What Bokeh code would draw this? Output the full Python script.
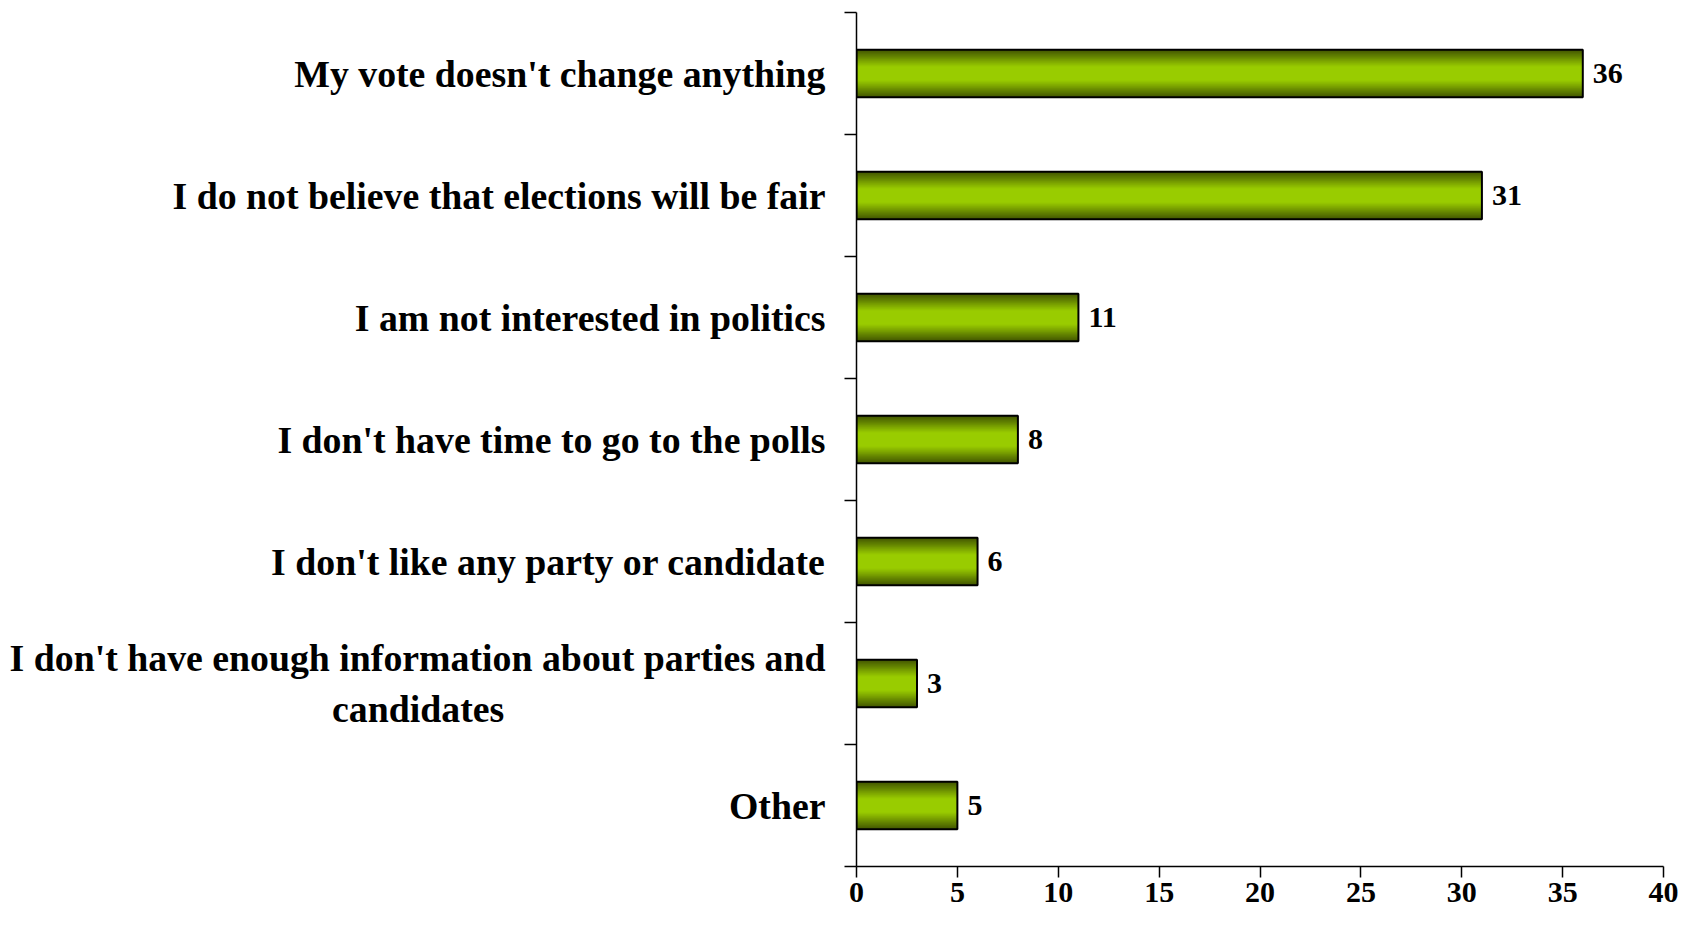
from bokeh.plotting import figure
from bokeh.models import ColumnDataSource, Range1d, FixedTicker
from bokeh.core.properties import value
from bokeh.embed import file_html
from bokeh.resources import INLINE

# ---- data ----
NBSP = "\u00a0"
categories = [
    "My vote doesn't change anything",
    "I do not believe that elections will be fair",
    "I am not interested in politics",
    "I don't have time to go to the polls",
    "I don't like any party or candidate",
    "I don't have enough information about parties and\ncandidates" + NBSP * 34,
    "Other",
]
values = [36, 31, 11, 8, 6, 3, 5]
x_ticks = [0, 5, 10, 15, 20, 25, 30, 35, 40]
value_labels = [str(v) for v in values]

FONT = "Liberation Serif"
n = len(categories)
centers = [i + 0.5 for i in range(n)]
BAR_H = 0.39

# ---- concentric layers to imitate the vertical gradient (style only) ----
EDGE = (68, 88, 0)
MID = (153, 204, 0)
K = 24


def mix(d):
    f = max(0.0, (d - 0.3) / 0.7)
    r = int(round(MID[0] + (EDGE[0] - MID[0]) * f))
    g = int(round(MID[1] + (EDGE[1] - MID[1]) * f))
    b = int(round(MID[2] + (EDGE[2] - MID[2]) * f))
    return "#%02x%02x%02x" % (r, g, b)


p = figure(
    width=1678,
    height=915,
    x_range=Range1d(0, 40),
    y_range=Range1d(n, 0),
    output_backend="svg",
    toolbar_location=None,
    min_border_left=856,
    min_border_right=15,
    min_border_top=12,
    min_border_bottom=49,
)
p.outline_line_color = None
p.xgrid.visible = False
p.ygrid.visible = False
p.background_fill_color = "white"
p.border_fill_color = "white"

bars = ColumnDataSource(dict(y=centers, right=values, label=value_labels))

for k in range(K):
    d = 1.0 - k / K
    p.hbar(y="y", right="right", left=0, height=BAR_H * d, source=bars,
           fill_color=mix(d), line_color=None)

p.hbar(y="y", right="right", left=0, height=BAR_H, source=bars,
       fill_color=None, line_color="black", line_width=2)
p.text(x="right", y="y", text="label", source=bars, x_offset=10,
       text_baseline="middle", text_align="left",
       text_font=value(FONT), text_font_style="bold",
       text_font_size="30px", text_color="black")

# x axis
xa = p.xaxis[0]
xa.ticker = FixedTicker(ticks=x_ticks)
xa.axis_line_color = "black"
xa.axis_line_width = 1.5
xa.major_tick_line_color = "black"
xa.major_tick_line_width = 1.5
xa.major_tick_out = 11
xa.major_tick_in = 0
xa.minor_tick_line_color = None
xa.minor_tick_out = 0
xa.major_label_standoff = 5
xa.major_label_text_font = FONT
xa.major_label_text_font_style = "bold"
xa.major_label_text_font_size = "30px"
xa.major_label_text_color = "black"

# y axis: labels at band centres, ticks at band boundaries
ya = p.yaxis[0]
ya.ticker = FixedTicker(ticks=centers, minor_ticks=list(range(n + 1)))
ya.major_label_overrides = {c: lab for c, lab in zip(centers, categories)}
ya.axis_line_color = "black"
ya.axis_line_width = 1.5
ya.major_tick_line_color = None
ya.major_tick_out = 0
ya.major_tick_in = 0
ya.minor_tick_line_color = "black"
ya.minor_tick_line_width = 1.5
ya.minor_tick_out = 12
ya.minor_tick_in = 0
ya.major_label_standoff = 19
ya.major_label_text_font = FONT
ya.major_label_text_font_style = "bold"
ya.major_label_text_font_size = "37.8px"
ya.major_label_text_color = "black"

open("out.html", "w").write(file_html(p, INLINE))
